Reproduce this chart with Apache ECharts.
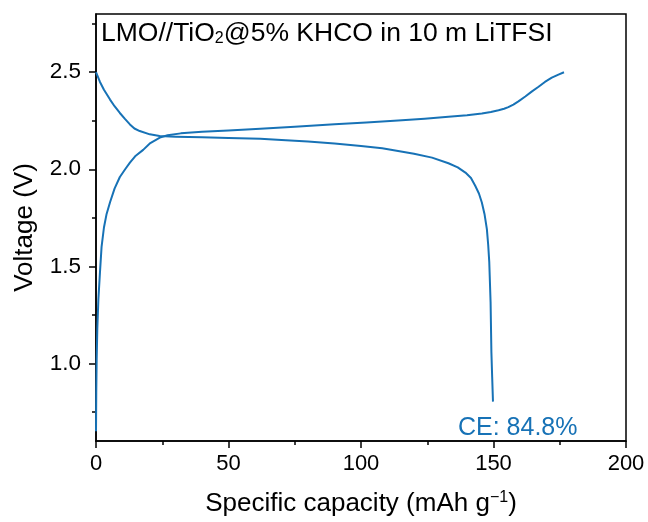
<!DOCTYPE html>
<html><head><meta charset="utf-8">
<script src="https://cdn.jsdelivr.net/npm/echarts@6/dist/echarts.min.js"></script>
<style>html,body{margin:0;padding:0;background:#fff}#c{width:648px;height:522px}</style>
</head><body><div id="c"></div>
<script>
// Charge curve: [specific capacity (mAh/g), voltage (V)]
const chargeCapacity = [0, 0.1, 0.25, 0.5, 0.9, 1.5, 2.1, 3, 4, 5.3, 7, 9, 11, 12.8, 15, 17.8, 20.5, 24.1, 27, 32, 40, 50, 62, 75, 90, 102, 114, 124, 133, 140, 145.6, 149, 151.9, 154, 155.6, 157.5, 159.4, 162, 164.4, 167, 169.4, 172, 174.5, 176.6];
const chargeVoltage  = [0.65, 0.85, 1.02, 1.18, 1.33, 1.47, 1.6, 1.7, 1.77, 1.83, 1.9, 1.96, 2.0, 2.034, 2.07, 2.1, 2.135, 2.163, 2.175, 2.185, 2.193, 2.2, 2.209, 2.219, 2.232, 2.241, 2.251, 2.26, 2.27, 2.278, 2.287, 2.295, 2.304, 2.312, 2.32, 2.333, 2.35, 2.375, 2.40, 2.425, 2.45, 2.472, 2.488, 2.50];
// Discharge curve
const dischargeCapacity = [0, 1.5, 3, 5.3, 7, 9, 11, 12.8, 14.5, 16.5, 20.3, 24, 30, 40, 50, 62, 70, 80, 90, 100, 108, 114, 120, 126.8, 133, 136.5, 139.4, 141.5, 143.1, 144.5, 145.6, 146.6, 147.5, 148.0, 148.4, 148.9, 149.2, 149.5, 149.8];
const dischargeVoltage  = [2.5, 2.45, 2.41, 2.359, 2.325, 2.29, 2.258, 2.231, 2.21, 2.197, 2.18, 2.171, 2.168, 2.165, 2.161, 2.157, 2.151, 2.143, 2.133, 2.12, 2.108, 2.094, 2.08, 2.06, 2.031, 2.01, 1.983, 1.955, 1.915, 1.875, 1.829, 1.77, 1.692, 1.61, 1.522, 1.316, 1.06, 0.93, 0.803];
const xTicks = [0, 50, 100, 150, 200];
const yMajorTicks = [1.0, 1.5, 2.0, 2.5];
const yMinorTicks = [0.75, 1.25, 1.75, 2.25, 2.75];
const titleText = ['LMO//TiO', '2', '@5% KHCO in 10 m LiTFSI'];
const ceText = 'CE: 84.8%';

const blue = '#1772b6';
const font = 'Liberation Sans, Arial, sans-serif';
const chart = echarts.init(document.getElementById('c'), null, {renderer: 'canvas'});
const zip = (a, b) => a.map((v, i) => [v, b[i]]);

chart.setOption({
  animation: false,
  textStyle: {fontFamily: font},
  title: [
    {text: '{a|' + titleText[0] + '}{s|' + titleText[1] + '}{a|' + titleText[2] + '}',
     left: 96, top: 15,
     textStyle: {fontWeight: 'normal', rich: {
       a: {fontSize: 26.5, color: '#000', fontFamily: font, fontWeight: 'normal'},
       s: {fontSize: 16, color: '#000', fontFamily: font, fontWeight: 'normal', verticalAlign: 'bottom', padding: [10, 0, 0, 0]}}}},
    {text: ceText, left: 453, top: 411, textStyle: {fontSize: 25, fontWeight: 'normal', color: blue, fontFamily: font}}
  ],
  grid: {left: 96, right: 22, top: 14, bottom: 80, show: true, borderColor: '#000', borderWidth: 1.5, backgroundColor: 'transparent'},
  xAxis: {
    type: 'value', min: xTicks[0], max: xTicks[xTicks.length - 1], interval: 50,
    axisLine: {show: true, lineStyle: {color: '#000', width: 1.5}},
    axisTick: {show: true, length: 7, lineStyle: {color: '#000', width: 1.5}},
    minorTick: {show: true, splitNumber: 2, length: 4, lineStyle: {color: '#000', width: 1.5}},
    splitLine: {show: false},
    axisLabel: {fontSize: 22, color: '#000', margin: 12, fontFamily: font},
    name: '{a|Specific capacity (mAh g}{s|\u22121}{a|)}',
    nameLocation: 'middle', nameGap: 49,
    nameTextStyle: {rich: {a: {fontSize: 26, color: '#000', fontFamily: font},
                           s: {fontSize: 16, color: '#000', fontFamily: font, verticalAlign: 'top', padding: [0, 0, 12, 0]}}}
  },
  yAxis: [
    {
      type: 'value', min: 0.6, max: 2.8,
      axisLine: {show: true, lineStyle: {color: '#000', width: 1.5}},
      axisTick: {show: true, length: 7, customValues: yMajorTicks, lineStyle: {color: '#000', width: 1.5}},
      splitLine: {show: false},
      axisLabel: {fontSize: 22.5, color: '#000', margin: 15, customValues: yMajorTicks, fontFamily: font,
                  formatter: v => v.toFixed(1)},
      name: 'Voltage (V)', nameLocation: 'middle', nameGap: 58,
      nameTextStyle: {fontSize: 26, color: '#000', fontFamily: font}
    },
    {
      type: 'value', min: 0.6, max: 2.8, position: 'left',
      axisLine: {show: false},
      axisTick: {show: true, length: 4, customValues: yMinorTicks, lineStyle: {color: '#000', width: 1.5}},
      axisLabel: {show: false},
      splitLine: {show: false}
    }
  ],
  series: [
    {type: 'line', data: zip(chargeCapacity, chargeVoltage), showSymbol: false, smooth: false,
     lineStyle: {color: blue, width: 2, join: 'round'}, itemStyle: {color: blue}, clip: true},
    {type: 'line', data: zip(dischargeCapacity, dischargeVoltage), showSymbol: false, smooth: false,
     lineStyle: {color: blue, width: 2, join: 'round'}, itemStyle: {color: blue}, clip: true}
  ]
});
</script></body></html>
